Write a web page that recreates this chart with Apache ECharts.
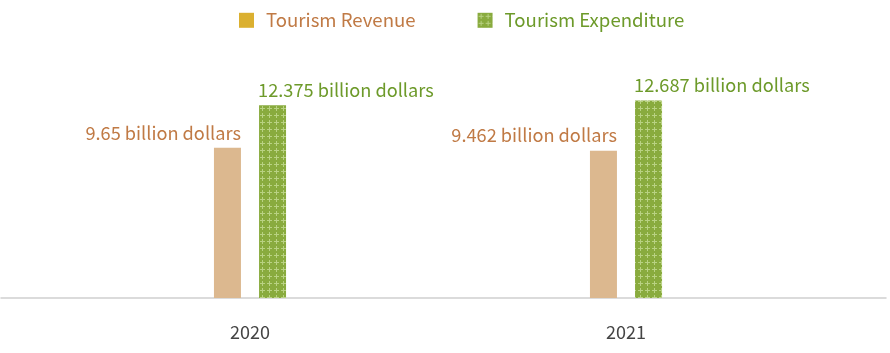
<!DOCTYPE html>
<html>
<head>
<meta charset="utf-8">
<script src="https://cdn.jsdelivr.net/npm/echarts@6/dist/echarts.min.js"></script>
<style>
  html, body { margin: 0; padding: 0; background: #fff; }
  #chart { width: 890px; height: 353px; }
</style>
</head>
<body>
<div id="chart"></div>
<script>
// data
var years = ['2020', '2021']
var revenue = [9.65, 9.462]
var expenditure = [12.375, 12.687]
var seriesNames = ['Tourism Revenue', 'Tourism Expenditure']

var FONT = '"Noto Sans CJK KR", "Noto Sans", sans-serif'

// little "+" pattern for the green bars
function plusPattern(bg, fg) {
  var c = document.createElement('canvas')
  c.width = 7
  c.height = 7
  var ctx = c.getContext('2d')
  ctx.fillStyle = bg
  ctx.fillRect(0, 0, 7, 7)
  ctx.fillStyle = fg
  ctx.fillRect(3, 1, 1, 5)
  ctx.fillRect(1, 3, 5, 1)
  return c
}

var myChart = echarts.init(document.getElementById('chart'))
var option = {
  animation: false,
  textStyle: { fontFamily: FONT },
  legend: {
    top: 6,
    left: 234,
    itemWidth: 15,
    itemHeight: 15,
    itemGap: 62,
    textStyle: { fontSize: 18.6, fontFamily: FONT, padding: [0, 0, 0, 7] },
    data: [
      { name: seriesNames[0], icon: 'rect', itemStyle: { color: '#dbb030' }, textStyle: { color: '#c07a45' } },
      { name: seriesNames[1], icon: 'rect', textStyle: { color: '#6d9a2a' } }
    ]
  },
  grid: [
    { left: 62, right: 76, top: 80, bottom: 55 },
    { left: 1, right: 4, top: 80, bottom: 55 }
  ],
  xAxis: [
    {
      type: 'category',
      gridIndex: 0,
      data: years,
      axisLine: { show: false },
      axisTick: { show: false },
      axisLabel: { color: '#444', fontSize: 18, margin: 25, fontFamily: FONT }
    },
    {
      type: 'value',
      gridIndex: 1,
      axisLine: { show: true, onZero: false, lineStyle: { color: '#d0d0d0', width: 1.5 } },
      axisTick: { show: false },
      axisLabel: { show: false },
      splitLine: { show: false }
    }
  ],
  yAxis: [
    { type: 'value', gridIndex: 0, min: 0, max: 14, show: false },
    { type: 'value', gridIndex: 1, show: false }
  ],
  series: [
    {
      name: seriesNames[0],
      type: 'bar',
      data: revenue,
      barWidth: 27,
      barGap: '67%',
      itemStyle: { color: '#dcb88f' },
      label: {
        show: true,
        position: ['100%', -6],
        align: 'right',
        verticalAlign: 'bottom',
        color: '#c07a45',
        fontSize: 18.2,
        fontFamily: FONT,
        formatter: function (p) { return p.value + ' billion dollars' }
      }
    },
    {
      name: seriesNames[1],
      type: 'bar',
      data: expenditure,
      barWidth: 27,
      itemStyle: { color: { image: plusPattern('#89ab3e', '#b9d283'), repeat: 'repeat' } },
      label: {
        show: true,
        position: [-1, -6],
        align: 'left',
        verticalAlign: 'bottom',
        color: '#6d9a2a',
        fontSize: 18.2,
        fontFamily: FONT,
        formatter: function (p) { return p.value + ' billion dollars' }
      }
    }
  ]
}
option && myChart.setOption(option)
</script>
</body>
</html>
